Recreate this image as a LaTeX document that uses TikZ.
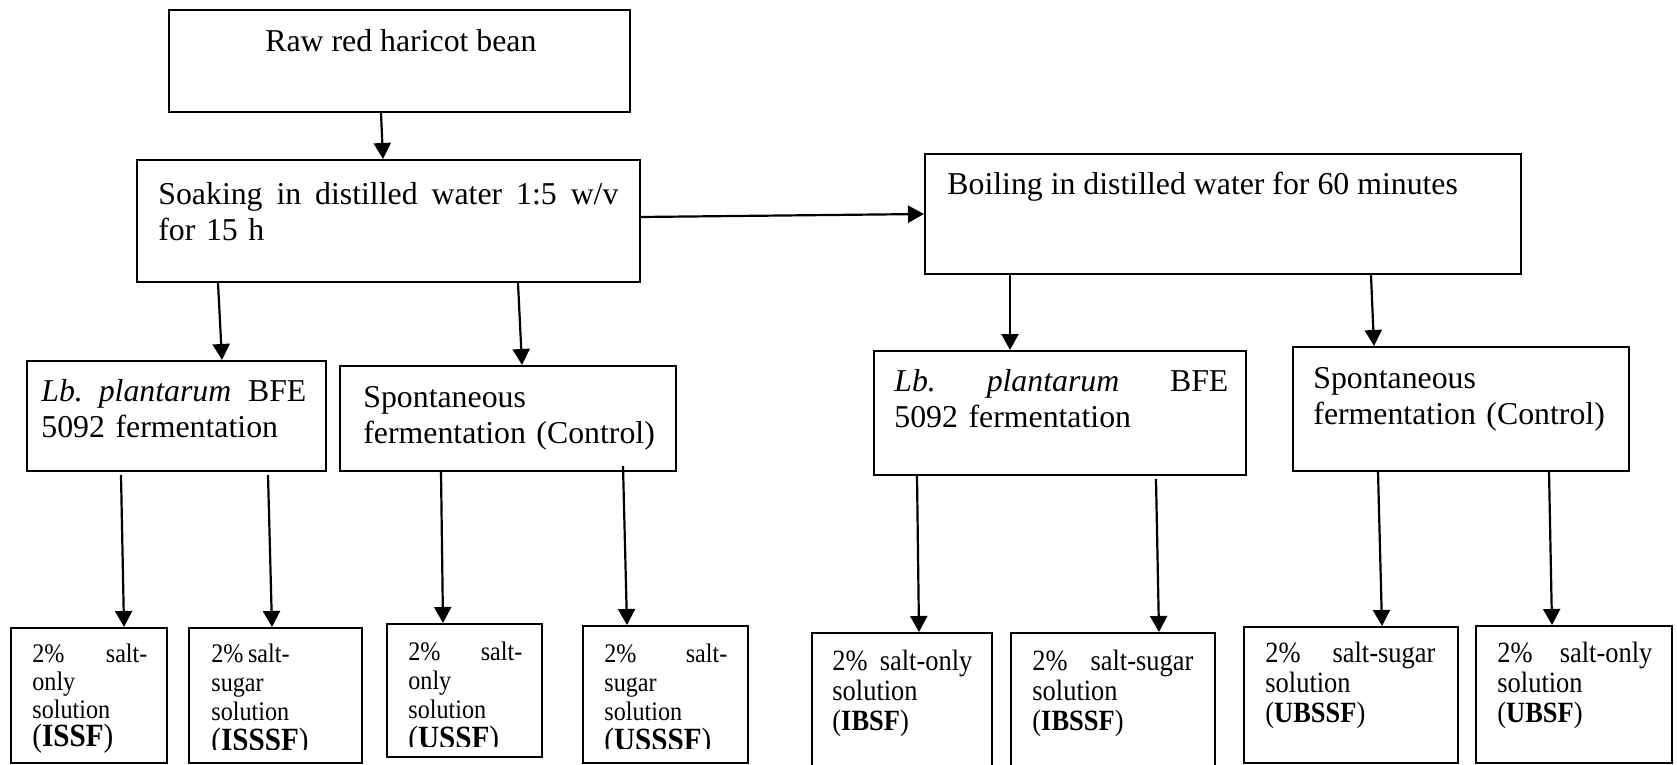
\documentclass[tikz,border=0pt]{standalone}
\usepackage{fontspec}
\setmainfont{Liberation Serif}
\newfontfamily\solfont[FakeStretch=0.9]{Liberation Serif}
\usetikzlibrary{arrows.meta,fit}

\tikzset{
  box/.style={draw, line width=1pt, inner sep=0pt},
  txt/.style={anchor=base west, inner sep=0pt, align=left, font=\fontsize{15.9}{18}\selectfont},
  soltxt/.style={anchor=base west, inner sep=0pt, align=left, font=\solfont\fontsize{14.7}{15}\selectfont},
  soltxtl/.style={anchor=base west, inner sep=0pt, align=left, font=\solfont\fontsize{13.4}{14.7}\selectfont},
  arr/.style={-{Triangle[length=8pt,width=8.5pt]}, line width=1.1pt},
}
\newcommand{\bigcode}[1]{{\fontsize{16.2}{14.7}\selectfont(\textbf{#1})}}

\begin{document}
\begin{tikzpicture}[x=0.5pt, y=-0.5pt]
\useasboundingbox (0,0) rectangle (1677,765);

% first steps
\node[box, fit={(169,10) (630,112)}] (raw) {};
\node[txt] (raw-t) at (265,52) {Raw red haricot bean};
\node[box, fit={(137,160) (640,282)}] (soak) {};
\node[txt, text width=230pt] (soak-t) at (158,205)
  {Soaking\hfill in\hfill distilled\hfill water\hfill 1:5\hfill w/v\\for 15 h};
\node[box, fit={(925,154) (1521,274)}] (boil) {};
\node[txt] (boil-t) at (947,194) {Boiling in distilled water for 60 minutes};

% fermentations
\node[box, fit={(27,361) (326,471)}] (lbL) {};
\node[txt, text width=132.5pt] (lbL-t) at (41,401) {\textit{Lb. plantarum}\hfill BFE\\5092 fermentation};
\node[box, fit={(340,366) (676,471)}] (spL) {};
\node[txt, text width=150pt] (spL-t) at (363,407) {Spontaneous\\fermentation (Control)};
\node[box, fit={(874,351) (1246,475)}] (lbR) {};
\node[txt, text width=167pt] (lbR-t) at (894,391) {\textit{Lb.}\hfill\textit{plantarum}\hfill BFE\\5092 fermentation};
\node[box, fit={(1293,347) (1629,471)}] (spR) {};
\node[txt, text width=150pt] (spR-t) at (1313,388) {Spontaneous\\fermentation (Control)};

% solutions, soaked beans
\node[box, fit={(11,628) (167,763)}] (issf) {};
\node[soltxtl, text width=57.5pt, font=\solfont\fontsize{13.4}{14}\selectfont] (issf-t) at (32,662)
  {2\%\hfill salt-\\only\\solution\\\bigcode{ISSF}};
\node[box, fit={(189,628) (362,763)}] (isssf) {};
\begin{scope}
  \clip (189,628) rectangle (362,749);
  \node[soltxtl, text width=70pt] (isssf-t) at (211,662) {2\%\,salt-\\sugar\\solution\\\bigcode{ISSSF}};
\end{scope}
\node[box, fit={(387,624) (542,757)}] (ussf) {};
\begin{scope}
  \clip (387,624) rectangle (542,746);
  \node[soltxtl, text width=57pt] (ussf-t) at (408,660) {2\%\hfill salt-\\only\\solution\\\bigcode{USSF}};
\end{scope}
\node[box, fit={(583,626) (748,763)}] (usssf) {};
\begin{scope}
  \clip (583,626) rectangle (748,748);
  \node[soltxtl, text width=61.5pt] (usssf-t) at (604,662) {2\%\hfill salt-\\sugar\\solution\\\bigcode{USSSF}};
\end{scope}

% solutions, boiled beans
\node[box, fit={(812,633) (992,772)}] (ibsf) {};
\node[soltxt, text width=70pt] (ibsf-t) at (832,670) {2\%\hfill salt-only\\solution\\(\textbf{IBSF})};
\node[box, fit={(1011,633) (1215,772)}] (ibssf) {};
\node[soltxt, text width=80.5pt] (ibssf-t) at (1032,670) {2\%\hfill salt-sugar\\solution\\(\textbf{IBSSF})};
\node[box, fit={(1244,627) (1458,763)}] (ubssf) {};
\node[soltxt, text width=85pt] (ubssf-t) at (1265,662) {2\%\hfill salt-sugar\\solution\\(\textbf{UBSSF})};
\node[box, fit={(1476,626) (1672,763)}] (ubsf) {};
\node[soltxt, text width=77.5pt] (ubsf-t) at (1497,662) {2\%\hfill salt-only\\solution\\(\textbf{UBSF})};

% arrows
\draw[arr] (381,0 |- raw.south) -- (383,0 |- soak.north);
\draw[arr] (0,217 -| soak.east) -- (0,214 -| boil.west);
\draw[arr] (218,0 |- soak.south) -- (222,0 |- lbL.north);
\draw[arr] (518,0 |- soak.south) -- (522,0 |- spL.north);
\draw[arr] (1010,0 |- boil.south) -- (1010,0 |- lbR.north);
\draw[arr] (1371,0 |- boil.south) -- (1374,0 |- spR.north);

\draw[arr] (121,475) -- (124,0 |- issf.north);
\draw[arr] (268,475) -- (272,0 |- isssf.north);
\draw[arr] (441,471) -- (443,0 |- ussf.north);
\draw[arr] (623,466) -- (627,0 |- usssf.north);
\draw[arr] (917,475) -- (919,0 |- ibsf.north);
\draw[arr] (1156,479) -- (1159,0 |- ibssf.north);
\draw[arr] (1378,471) -- (1382,0 |- ubssf.north);
\draw[arr] (1549,471) -- (1552,0 |- ubsf.north);

\end{tikzpicture}
\end{document}
